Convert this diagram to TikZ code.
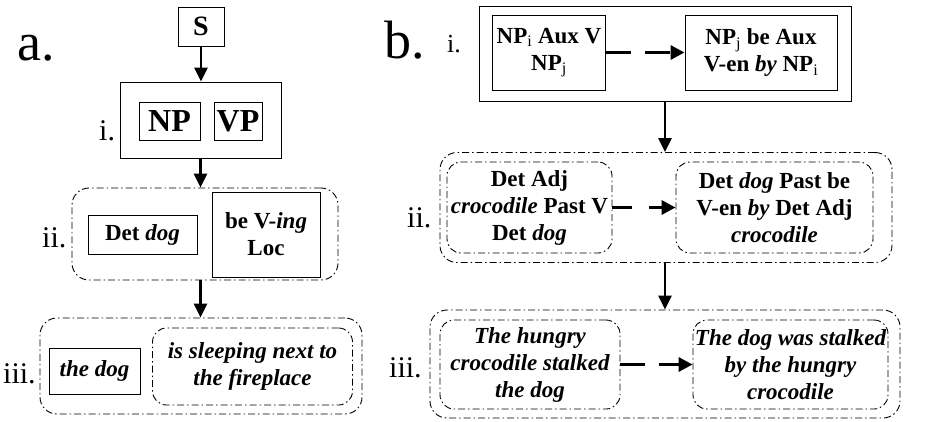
\documentclass[tikz,border=0pt]{standalone}
\usepackage{fontspec}
\setmainfont{Liberation Serif}
\usetikzlibrary{arrows.meta}
\begin{document}
\begin{tikzpicture}[x=1pt,y=-1pt,
  boxtext/.style={font=\bfseries\fontsize{23}{27}\selectfont},
  italtext/.style={font=\bfseries\itshape\fontsize{23}{27}\selectfont},
  solidbox/.style={draw, line width=1pt, inner sep=0pt, align=center, boxtext},
  dashbox/.style={draw, line width=0.9pt, inner sep=0pt, align=center, boxtext,
    rounded corners=14pt, dash pattern=on 7pt off 3pt on 1.5pt off 3pt},
  framebox/.style={draw, line width=1pt, inner sep=0pt},
  groupbox/.style={draw, line width=0.9pt, inner sep=0pt, rounded corners=17pt,
    dash pattern=on 7pt off 3pt on 1.5pt off 3pt},
  rowlabel/.style={anchor=base west, inner sep=0pt, font=\fontsize{30}{30}\selectfont},
  panellabel/.style={anchor=base west, inner sep=0pt, font=\fontsize{54}{54}\selectfont},
  downarrow/.style={line width=2.8pt, -{Triangle[length=14pt,width=13pt]}},
  sidearrow/.style={line width=3.3pt, -{Triangle[length=14pt,width=14pt]}, dash pattern=on 25pt off 14pt},
]
\useasboundingbox (0,0) rectangle (925,421);

% panel a
\node[panellabel] (la) at (17,60) {a.};
\node[solidbox, minimum width=46pt, minimum height=39pt, font=\bfseries\fontsize{28}{28}\selectfont] (S) at (201,26.5) {S};

\node[framebox, minimum width=161pt, minimum height=76pt] (ai) at (200.5,120) {};
\node[solidbox, minimum width=61pt, minimum height=38pt, font=\bfseries\fontsize{32}{32}\selectfont] (np) at (169.5,121) {NP};
\node[solidbox, minimum width=48pt, minimum height=38pt, font=\bfseries\fontsize{32}{32}\selectfont] (vp) at (238,121) {VP};
\node[rowlabel] (lai) at (99,140) {i.};

\node[groupbox, minimum width=266pt, minimum height=92pt] (aii) at (205,234) {};
\node[solidbox, minimum width=109pt, minimum height=39pt] (det) at (142.5,234.5) {Det \textit{dog}};
\node[solidbox, minimum width=108pt, minimum height=85pt] (bev) at (266,234.5) {be V-\textit{ing}\\Loc};
\node[rowlabel] (laii) at (42,247) {ii.};

\node[groupbox, minimum width=322pt, minimum height=96pt] (aiii) at (201,366) {};
\node[solidbox, minimum width=91pt, minimum height=46pt, italtext] (thedog) at (94.5,371) {the dog};
\node[dashbox, minimum width=200pt, minimum height=77pt, italtext] (sleep) at (252.5,366.5) {is sleeping next to\\the fireplace};
\node[rowlabel] (laiii) at (3,383) {iii.};

\draw[downarrow] (S.south) -- (S.south |- ai.north);
\draw[downarrow] (ai.south) -- (ai.south |- aii.north);
\draw[downarrow] (ai.south |- aii.south) -- (ai.south |- aiii.north);

% panel b
\node[panellabel] (lb) at (384,58) {b.};

\node[framebox, minimum width=372pt, minimum height=95pt] (bi) at (665,53.5) {};
\node[solidbox, minimum width=113pt, minimum height=75pt] (act) at (549,52.5) {NP\textsubscript{\mdseries i} Aux V\\NP\textsubscript{\mdseries j}};
\node[solidbox, minimum width=152pt, minimum height=75pt] (pas) at (761,52.5) {NP\textsubscript{\mdseries j} be Aux\\V-en \textit{by} NP\textsubscript{\mdseries i}};
\node[rowlabel, font=\fontsize{26}{26}\selectfont] (lbi) at (447,52) {i.};

\node[groupbox, minimum width=452pt, minimum height=110pt] (bii) at (666,207.5) {};
\node[dashbox, minimum width=165pt, minimum height=91pt] (dact) at (529.5,207.5) {Det Adj\\\textit{crocodile} Past V\\Det \textit{dog}};
\node[dashbox, minimum width=197pt, minimum height=91pt] (dpas) at (774.5,207.5) {Det \textit{dog} Past be\\V-en \textit{by} Det Adj\\\textit{crocodile}};
\node[rowlabel] (lbii) at (407,227) {ii.};

\node[groupbox, minimum width=470pt, minimum height=108pt] (biii) at (665,364) {};
\node[dashbox, minimum width=180pt, minimum height=89pt, italtext] (sact) at (530,364.5) {The hungry\\crocodile stalked\\the dog};
\node[dashbox, minimum width=195pt, minimum height=89pt, italtext] (spas) at (790.5,364.5) {The dog was stalked\\by the hungry\\crocodile};
\node[rowlabel] (lbiii) at (389,377) {iii.};

\draw[sidearrow] (act.east) -- (pas.west);
\draw[sidearrow, dash pattern=on 20pt off 17pt] (dact.east) -- (dpas.west);
\draw[sidearrow] (sact.east) -- (spas.west);

\draw[downarrow] (bi.south) -- (bi.south |- bii.north);
\draw[downarrow] (bi.south |- bii.south) -- (bi.south |- biii.north);
\end{tikzpicture}
\end{document}
